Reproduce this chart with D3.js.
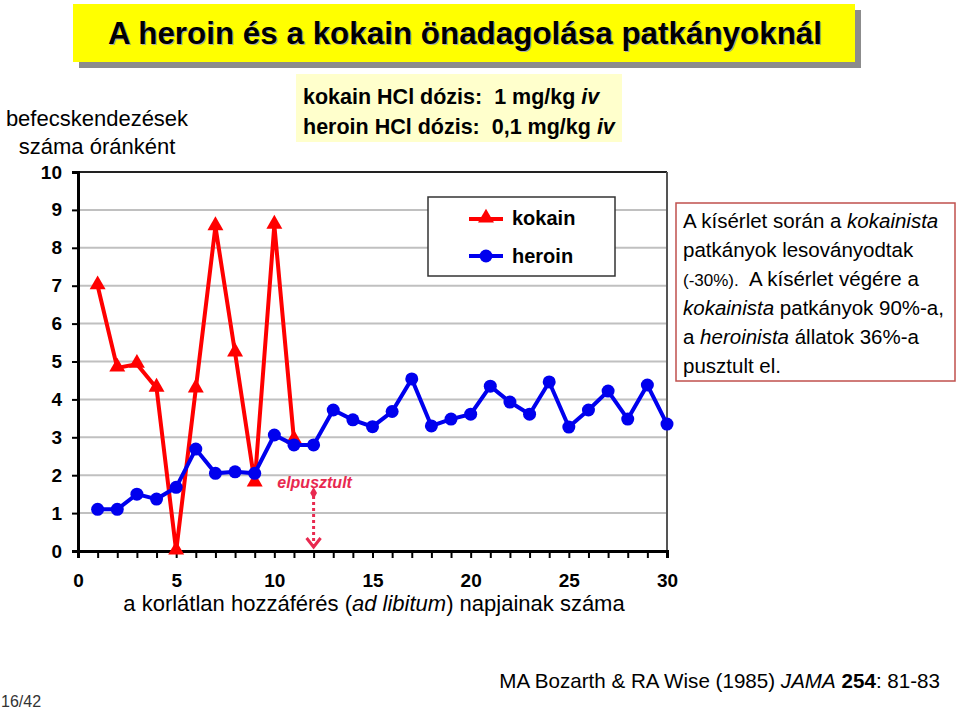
<!DOCTYPE html>
<html><head><meta charset="utf-8">
<script src="https://cdn.jsdelivr.net/npm/d3@7"></script>
<style>body{margin:0;background:#fff}svg{display:block;font-family:"Liberation Sans",Arial,sans-serif}</style>
</head><body>
<script>
const days = d3.range(1, 31);
const kokainDays = [1,2,3,4,5,6,7,8,9,10,11];
const kokain = [7.0,4.83,4.93,4.3,0,4.28,8.56,5.23,1.8,8.6,2.93];
const heroin = [1.1,1.1,1.5,1.37,1.68,2.69,2.05,2.09,2.05,3.06,2.8,2.8,3.72,3.46,3.28,3.68,4.54,3.3,3.48,3.61,4.35,3.93,3.61,4.46,3.27,3.72,4.22,3.48,4.38,3.35];
const xTicks = [0,5,10,15,20,25,30];
const yTicks = [0,1,2,3,4,5,6,7,8,9,10];
const deathDay = 12;

const W=960,H=710;
const svg=d3.select("body").append("svg").attr("width",W).attr("height",H);
const x=d3.scaleLinear().domain([0,30]).range([78,667]);
const y=d3.scaleLinear().domain([0,10]).range([551,172]);

// Title
svg.append("rect").attr("x",79).attr("y",10).attr("width",782).attr("height",58).attr("fill","#8c8c8c");
svg.append("rect").attr("x",73).attr("y",4).attr("width",782).attr("height",58).attr("fill","#ffff00");
svg.append("text").attr("x",466).attr("y",45).attr("text-anchor","middle").attr("font-size",31).attr("font-weight","bold")
  .attr("fill","#aaa").attr("textLength",714).attr("lengthAdjust","spacingAndGlyphs").text("A heroin és a kokain önadagolása patkányoknál");
svg.append("text").attr("x",465).attr("y",44).attr("text-anchor","middle").attr("font-size",31).attr("font-weight","bold")
  .attr("fill","#000").attr("textLength",714).attr("lengthAdjust","spacingAndGlyphs").text("A heroin és a kokain önadagolása patkányoknál");

// Dose box
svg.append("rect").attr("x",296).attr("y",74).attr("width",326).attr("height",68).attr("fill","#ffffcc");
const d1=svg.append("text").attr("x",303).attr("y",104).attr("font-size",21.5).attr("font-weight","bold").attr("xml:space","preserve").style("white-space","pre");
d1.append("tspan").text("kokain HCl dózis:  1 mg/kg ");
d1.append("tspan").attr("font-style","italic").text("iv");
const d2=svg.append("text").attr("x",303).attr("y",134).attr("font-size",21.5).attr("font-weight","bold").attr("xml:space","preserve").style("white-space","pre");
d2.append("tspan").text("heroin HCl dózis:  0,1 mg/kg ");
d2.append("tspan").attr("font-style","italic").text("iv");

// Y label
svg.append("text").attr("x",97).attr("y",126).attr("text-anchor","middle").attr("font-size",22).text("befecskendezések");
svg.append("text").attr("x",97).attr("y",154).attr("text-anchor","middle").attr("font-size",22).text("száma óránként");

// grid
svg.append("g").selectAll("line").data(yTicks.filter(v=>v>0&&v<10)).join("line")
  .attr("x1",78).attr("x2",667).attr("y1",d=>y(d)).attr("y2",d=>y(d)).attr("stroke","#c0c0c0").attr("stroke-width",2);
svg.append("line").attr("x1",78).attr("x2",667).attr("y1",172).attr("y2",172).attr("stroke","#222").attr("stroke-width",2);
svg.append("line").attr("x1",667).attr("x2",667).attr("y1",172).attr("y2",551).attr("stroke","#555").attr("stroke-width",2);

// Y axis
const ya=svg.append("g").attr("transform","translate(78,0)").call(d3.axisLeft(y).tickValues(yTicks).tickSize(6).tickPadding(10));
ya.select(".domain").attr("stroke","#000").attr("stroke-width",3);
ya.selectAll(".tick line").attr("stroke","#000").attr("stroke-width",2);
ya.selectAll(".tick text").attr("font-size",19).attr("font-weight","bold").attr("font-family","Liberation Sans, Arial").attr("fill","#000");

// X axis
const xa=svg.append("g").attr("transform","translate(0,551)").call(d3.axisBottom(x).tickValues(d3.range(0,31)).tickSize(7).tickFormat(d=>xTicks.includes(d)?d:""));
xa.select(".domain").attr("stroke","#000").attr("stroke-width",3);
xa.selectAll(".tick line").attr("stroke","#000").attr("stroke-width",2);
xa.selectAll(".tick text").attr("font-size",19).attr("font-weight","bold").attr("font-family","Liberation Sans, Arial").attr("fill","#000").attr("dy","1.35em");

const xt=svg.append("text").attr("x",374).attr("y",611).attr("text-anchor","middle").attr("font-size",22);
xt.append("tspan").text("a korlátlan hozzáférés (");
xt.append("tspan").attr("font-style","italic").text("ad libitum");
xt.append("tspan").text(") napjainak száma");

// lines
const kData=kokainDays.map((d,i)=>[d,kokain[i]]);
const hData=days.map((d,i)=>[d,heroin[i]]);
const line=d3.line().x(d=>x(d[0])).y(d=>y(d[1]));
svg.append("path").datum(kData).attr("d",line).attr("fill","none").attr("stroke","#ff0000").attr("stroke-width",4).attr("stroke-linejoin","miter");
svg.append("g").selectAll("path").data(kData).join("path")
  .attr("d",d3.symbol().type(d3.symbolTriangle).size(110)).attr("transform",d=>`translate(${x(d[0])},${y(d[1])-1})`).attr("fill","#ff0000");
svg.append("path").datum(hData).attr("d",line).attr("fill","none").attr("stroke","#0000ee").attr("stroke-width",4);
svg.append("g").selectAll("circle").data(hData).join("circle")
  .attr("cx",d=>x(d[0])).attr("cy",d=>y(d[1])).attr("r",6.5).attr("fill","#0000ee");

// elpusztult
svg.append("text").attr("x",x(deathDay)+1).attr("y",488).attr("text-anchor","middle").attr("font-size",16).attr("font-weight","bold").attr("font-style","italic").attr("fill","#e8294f").text("elpusztult");
svg.append("path").attr("d",d3.symbol().type(d3.symbolDiamond).size(40)).attr("transform",`translate(${x(deathDay)},493)`).attr("fill","#e8294f");
svg.append("line").attr("x1",x(deathDay)).attr("x2",x(deathDay)).attr("y1",496).attr("y2",546).attr("stroke","#e8294f").attr("stroke-width",3).attr("stroke-dasharray","3,3");
svg.append("path").attr("d",`M${x(deathDay)-7},${538}L${x(deathDay)},${547}L${x(deathDay)+7},${538}`).attr("fill","none").attr("stroke","#e8294f").attr("stroke-width",3);

// legend
svg.append("rect").attr("x",428).attr("y",197).attr("width",187).attr("height",79).attr("fill","#fff").attr("stroke","#333").attr("stroke-width",1.5);
svg.append("line").attr("x1",469).attr("x2",503).attr("y1",219).attr("y2",219).attr("stroke","#ff0000").attr("stroke-width",4);
svg.append("path").attr("d",d3.symbol().type(d3.symbolTriangle).size(110)).attr("transform","translate(486,218)").attr("fill","#ff0000");
svg.append("text").attr("x",512).attr("y",225).attr("font-size",20).attr("font-weight","bold").text("kokain");
svg.append("line").attr("x1",469).attr("x2",503).attr("y1",256).attr("y2",256).attr("stroke","#0000ee").attr("stroke-width",4);
svg.append("circle").attr("cx",486).attr("cy",256).attr("r",6.5).attr("fill","#0000ee");
svg.append("text").attr("x",512).attr("y",263).attr("font-size",20).attr("font-weight","bold").text("heroin");

// note box
svg.append("rect").attr("x",676).attr("y",203).attr("width",279).attr("height",178).attr("fill","#fff").attr("stroke","#c0504d").attr("stroke-width",1.5);
const note=[
  [["A kísérlet során a ",0],["kokainista",1]],
  [["patkányok lesoványodtak",0]],
  [["(-30%).",2],["  A kísérlet végére a",0]],
  [["kokainista",1],[" patkányok 90%-a,",0]],
  [["a ",0],["heroinista",1],[" állatok 36%-a",0]],
  [["pusztult el.",0]]
];
note.forEach((ln,i)=>{
  const t=svg.append("text").attr("x",683).attr("y",228+i*29).attr("font-size",20.5).attr("xml:space","preserve").style("white-space","pre");
  ln.forEach(([s,f])=>{const sp=t.append("tspan").text(s); if(f==1) sp.attr("font-style","italic"); if(f==2) sp.attr("font-size",17);});
});

// footer
const f=svg.append("text").attr("x",940).attr("y",688).attr("text-anchor","end").attr("font-size",20.6);
f.append("tspan").text("MA Bozarth & RA Wise (1985) ");
f.append("tspan").attr("font-style","italic").text("JAMA");
f.append("tspan").text(" ");
f.append("tspan").attr("font-weight","bold").text("254");
f.append("tspan").text(": 81-83");
svg.append("text").attr("x",1).attr("y",707).attr("font-size",16).attr("fill","#333").text("16/42");
</script>
</body></html>
